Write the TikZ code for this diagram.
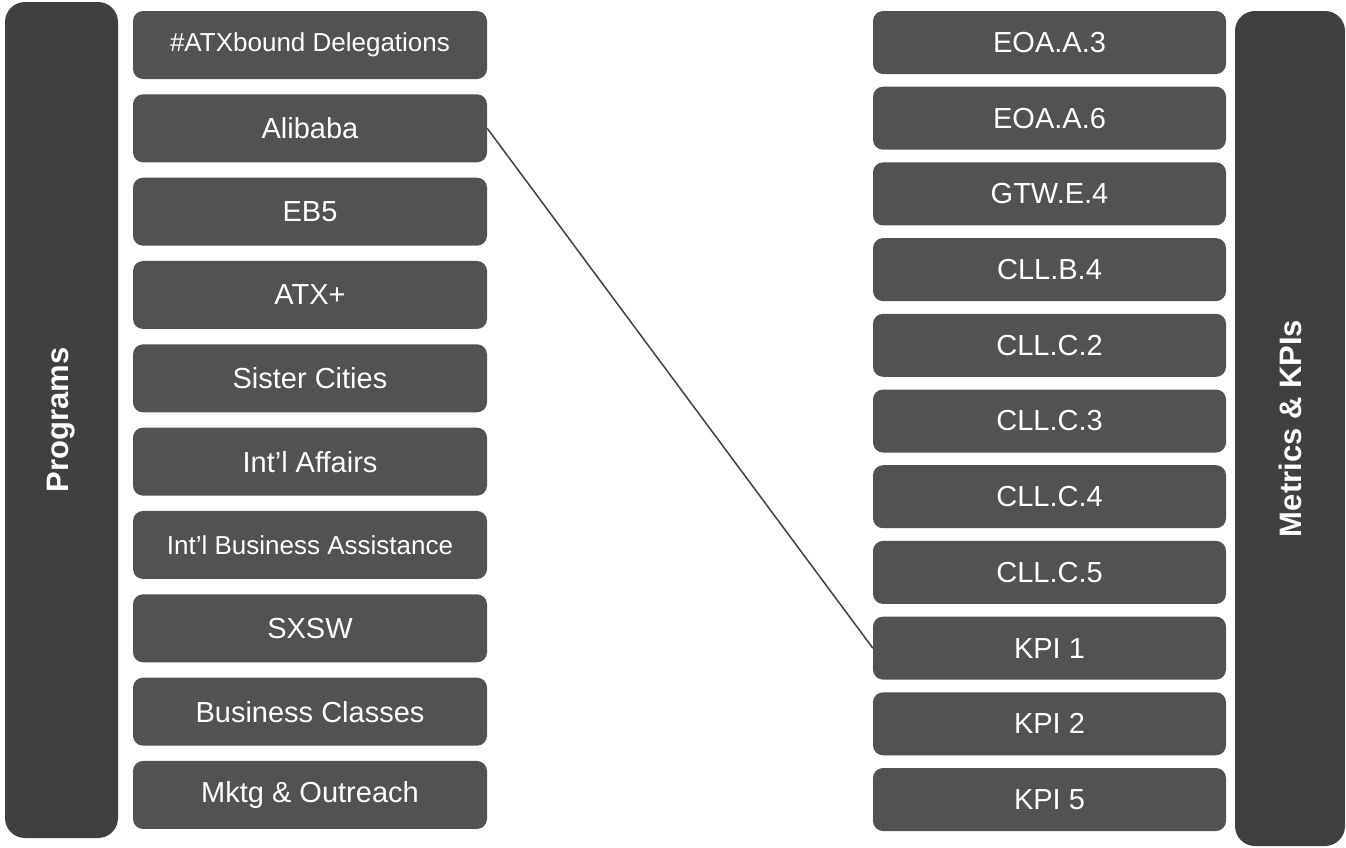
\documentclass[tikz,border=0pt]{standalone}
\usepackage{fontspec}
\setmainfont{Liberation Sans}
\definecolor{boxgray}{HTML}{525252}
\definecolor{bargray}{HTML}{404040}
\tikzset{
	itembox/.style={fill=boxgray, text=white, rounded corners=10pt, inner sep=0pt, align=center},
	sidebar/.style={fill=bargray, text=white, rounded corners=20pt, inner sep=0pt, rotate=90,
		font=\fontsize{31}{36}\selectfont\bfseries},
}
\begin{document}
\begin{tikzpicture}[x=1pt, y=-1pt]
				\useasboundingbox (0,0) rectangle (1346,847);
				% side bars
				\node[sidebar, minimum width=836pt, minimum height=113pt] (programs) at (61.5,420) {Programs};
				\node[sidebar, minimum width=835pt, minimum height=110pt] (metrics) at (1290,428.5) {Metrics \& KPIs};
				% programs column
				\foreach \txt/\fs [count=\i] in {\#ATXbound Delegations/26, Alibaba/29, EB5/29, ATX+/29,
					Sister Cities/29, Int’l Affairs/29, Int’l Business Assistance/26, SXSW/29,
					Business Classes/29, Mktg \& Outreach/29}{
					\node[itembox, minimum width=354pt, minimum height=68pt, font=\fontsize{\fs}{\fs}\selectfont]
						(prog\i) at (310, {45+83.33*(\i-1)}) {\txt};
				}
				% metrics column
				\foreach \txt [count=\i] in {EOA.A.3, EOA.A.6, GTW.E.4, CLL.B.4, CLL.C.2, CLL.C.3,
					CLL.C.4, CLL.C.5, KPI 1, KPI 2, KPI 5}{
					\node[itembox, minimum width=353pt, minimum height=63pt, font=\fontsize{29}{29}\selectfont]
						(met\i) at (1049.5, {42.5+75.7*(\i-1)}) {\txt};
				}
				% link
				\draw[bargray, line width=1.5pt] (prog2.east) -- (met9.west);
\end{tikzpicture}
\end{document}
